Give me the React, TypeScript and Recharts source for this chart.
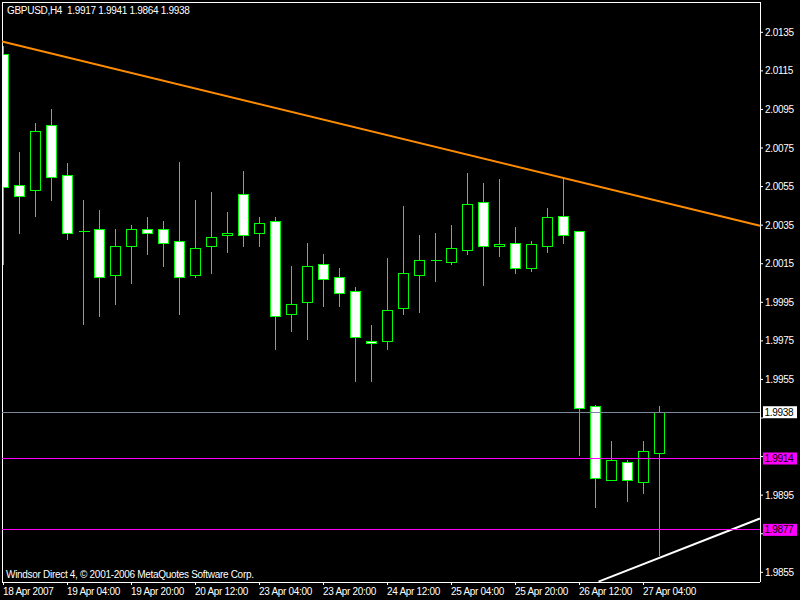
import React from 'react';
import { ComposedChart, Bar, XAxis, YAxis, ReferenceLine } from 'recharts';

// GBPUSD H4, 18 Apr 2007 12:00 .. 27 Apr 2007 08:00
const symbol = 'GBPUSD,H4';
const opens = [
  2.0124, 2.0056, 2.0053, 2.0087, 2.0061, 2.0032, 2.0033, 2.0009, 2.0024, 2.0033,
  2.0033, 2.0027, 2.0009, 2.0024, 2.0030, 2.0051, 2.0031, 2.0037, 1.9989, 1.9995,
  2.0015, 2.0008, 2.0001, 1.9975, 1.9975, 1.9992, 2.0009, 2.0017, 2.0016, 2.0022,
  2.0047, 2.0024, 2.0026, 2.0013, 2.0024, 2.0040, 2.0032, 1.9941, 1.9903, 1.9912,
  1.9902, 1.9917,
];
const highs = [
  2.0128, 2.0073, 2.0088, 2.0095, 2.0067, 2.0048, 2.0043, 2.0033, 2.0035, 2.0039,
  2.0037, 2.0068, 2.0048, 2.0052, 2.0042, 2.0063, 2.0039, 2.0039, 2.0014, 2.0026,
  2.0020, 2.0013, 2.0003, 1.9983, 2.0018, 2.0045, 2.0030, 2.0031, 2.0035, 2.0062,
  2.0057, 2.0059, 2.0034, 2.0027, 2.0044, 2.0059, 2.0032, 1.9942, 1.9923, 1.9913,
  1.9923, 1.9941,
];
const lows = [
  2.0015, 2.0031, 2.0040, 2.0048, 2.0028, 1.9984, 1.9988, 1.9994, 2.0005, 2.0020,
  2.0014, 1.9989, 2.0008, 2.0010, 2.0021, 2.0024, 2.0024, 1.9971, 1.9980, 1.9976,
  1.9993, 1.9993, 1.9954, 1.9954, 1.9971, 1.9989, 1.9990, 2.0006, 2.0015, 2.0020,
  2.0004, 2.0019, 2.0010, 2.0011, 2.0021, 2.0026, 1.9916, 1.9889, 1.9903, 1.9892,
  1.9896, 1.9864,
];
const closes = [
  2.0055, 2.0050, 2.0084, 2.0060, 2.0031, 2.0032, 2.0008, 2.0024, 2.0033, 2.0031,
  2.0026, 2.0008, 2.0023, 2.0029, 2.0031, 2.0030, 2.0036, 1.9988, 1.9994, 2.0014,
  2.0007, 2.0000, 1.9977, 1.9974, 1.9991, 2.0010, 2.0017, 2.0017, 2.0023, 2.0046,
  2.0024, 2.0025, 2.0013, 2.0025, 2.0039, 2.0030, 1.9940, 1.9904, 1.9913, 1.9903,
  1.9918, 1.9938,
];

const xTickIdx = [0, 4, 8, 12, 16, 20, 24, 28, 32, 36, 40];
const xTickLabels = [
  '18 Apr 2007', '19 Apr 04:00', '19 Apr 20:00', '20 Apr 12:00', '23 Apr 04:00', '23 Apr 20:00',
  '24 Apr 12:00', '25 Apr 04:00', '25 Apr 20:00', '26 Apr 12:00', '27 Apr 04:00',
];
const yTicks = [
  2.0135, 2.0115, 2.0095, 2.0075, 2.0055, 2.0035, 2.0015, 1.9995, 1.9975, 1.9955,
  1.9935, 1.9915, 1.9895, 1.9875, 1.9855,
];

// bid line, two horizontal levels
const bidLevel = 1.9938;
const levels = [1.9914, 1.9877];

// trend lines as [bar index, price] pairs
const upperTrend = [[-0.09, 2.01302], [47.28, 2.00347]];
const lowerTrend = [[37.19, 1.98502], [47.28, 1.98829]];

const xDomain = [-0.09375, 47.28125];
const yDomain = [1.984997, 2.015071];

const FONT = '"Liberation Sans", Arial, sans-serif';
const LIME = '#00ff00';

const candles = opens.map((o, i) => ({
  idx: i,
  open: o,
  high: highs[i],
  low: lows[i],
  close: closes[i],
}));

const tagged = [bidLevel, ...levels];

const Candle = (props: any) => {
  const { x, y, width, height, payload } = props;
  if (x == null || y == null) return null;
  const top = Math.min(y, y + height);
  const bot = Math.max(y, y + height);
  const { open, close, high, low } = payload;
  const span = high - low;
  const py = (v: number) => (span === 0 ? top : top + ((high - v) / span) * (bot - top));
  const cx = Math.floor(x + width / 2) + 0.5;
  const bTop = Math.round(py(Math.max(open, close)));
  const bBot = Math.round(py(Math.min(open, close)));
  const up = close >= open;
  return (
    <g shapeRendering="crispEdges">
      <line x1={cx} x2={cx} y1={Math.round(top)} y2={Math.round(bot) + 1} stroke={LIME} strokeWidth={1} />
      {bBot - bTop < 1 ? (
        <line x1={cx - 5} x2={cx + 6} y1={bTop + 0.5} y2={bTop + 0.5} stroke={LIME} strokeWidth={1} />
      ) : (
        <rect
          x={cx - 5}
          y={bTop + 0.5}
          width={10}
          height={bBot - bTop}
          fill={up ? '#000' : '#fff'}
          stroke={LIME}
          strokeWidth={1}
        />
      )}
    </g>
  );
};

const XTick = (props: any) => {
  const { x, y, payload } = props;
  const i = xTickIdx.indexOf(payload.value);
  return (
    <text x={x - 0.5} y={y + 8} fill="#fff" fontSize={10} fontFamily={FONT} letterSpacing={-0.3} textAnchor="start">
      {xTickLabels[i]}
    </text>
  );
};

const YTick = (props: any) => {
  const { x, y, payload } = props;
  // labels sitting under a price tag are covered in the terminal
  if (tagged.some((t) => Math.abs(t - payload.value) < 0.0004)) return null;
  return (
    <text x={x} y={y + 3.5} fill="#fff" fontSize={10} fontFamily={FONT} letterSpacing={-0.3} textAnchor="start">
      {Number(payload.value).toFixed(4)}
    </text>
  );
};

const PriceTag = ({ viewBox, text, bg }: any) => {
  if (!viewBox) return null;
  const right = viewBox.x + viewBox.width;
  const cy = viewBox.y;
  return (
    <g>
      <rect x={right + 3} y={cy - 6} width={34} height={12} fill={bg} />
      <text x={right + 4.5} y={cy + 3.5} fill="#000" fontSize={10} fontFamily={FONT} letterSpacing={-0.3}>
        {text}
      </text>
    </g>
  );
};

export default function App() {
  const last = candles[candles.length - 1];
  const header = `${symbol}\u00a0\u00a0${last.open.toFixed(4)} ${last.high.toFixed(4)} ${last.low.toFixed(4)} ${last.close.toFixed(4)}`;
  return (
    <div style={{ position: 'relative', width: 800, height: 600, background: '#000' }}>
      <style>{'body{margin:0;background:#000}'}</style>
      <ComposedChart
        width={800}
        height={600}
        data={candles}
        margin={{ top: 2, right: 0, bottom: 0, left: 2 }}
      >
        <XAxis
          dataKey="idx"
          type="number"
          domain={xDomain}
          allowDataOverflow
          ticks={xTickIdx}
          height={18}
          tickSize={3}
          tickMargin={2}
          axisLine={{ stroke: '#fff', shapeRendering: 'crispEdges' }}
          tickLine={{ stroke: '#fff' }}
          tick={<XTick />}
          interval={0}
        />
        <YAxis
          orientation="right"
          type="number"
          domain={yDomain}
          allowDataOverflow
          ticks={yTicks}
          width={40}
          tickSize={3}
          tickMargin={2}
          axisLine={{ stroke: '#fff', shapeRendering: 'crispEdges' }}
          tickLine={{ stroke: '#fff' }}
          tick={<YTick />}
          interval={0}
        />
        <ReferenceLine y={yDomain[1]} stroke="#fff" shapeRendering="crispEdges" />
        <ReferenceLine x={xDomain[0]} stroke="#fff" shapeRendering="crispEdges" />
        <Bar
          dataKey={(d: any) => [d.low, d.high]}
          barSize={10}
          shape={<Candle />}
          isAnimationActive={false}
        />
        <ReferenceLine
          segment={[
            { x: upperTrend[0][0], y: upperTrend[0][1] },
            { x: upperTrend[1][0], y: upperTrend[1][1] },
          ]}
          stroke="#ff8c00"
          strokeWidth={2}
          ifOverflow="visible"
        />
        <ReferenceLine
          segment={[
            { x: lowerTrend[0][0], y: lowerTrend[0][1] },
            { x: lowerTrend[1][0], y: lowerTrend[1][1] },
          ]}
          stroke="#fff"
          strokeWidth={2}
          ifOverflow="visible"
        />
        <ReferenceLine
          y={bidLevel}
          stroke="#778899"
          shapeRendering="crispEdges"
          label={{ content: (p: any) => <PriceTag viewBox={p.viewBox} text={bidLevel.toFixed(4)} bg="#fff" /> }}
        />
        {levels.map((lv) => (
          <ReferenceLine
            key={lv}
            y={lv}
            stroke="#ff00ff"
            shapeRendering="crispEdges"
            label={{ content: (p: any) => <PriceTag viewBox={p.viewBox} text={lv.toFixed(4)} bg="#ff00ff" /> }}
          />
        ))}
      </ComposedChart>
      <svg width={800} height={600} style={{ position: 'absolute', left: 0, top: 0, pointerEvents: 'none' }}>
        <text x={7} y={14} fill="#fff" fontSize={10} fontFamily={FONT} letterSpacing={-0.3}>
          {header}
        </text>
        <text x={6} y={578} fill="#fff" fontSize={10} fontFamily={FONT} letterSpacing={-0.3}>
          Windsor Direct 4, © 2001-2006 MetaQuotes Software Corp.
        </text>
      </svg>
    </div>
  );
}
